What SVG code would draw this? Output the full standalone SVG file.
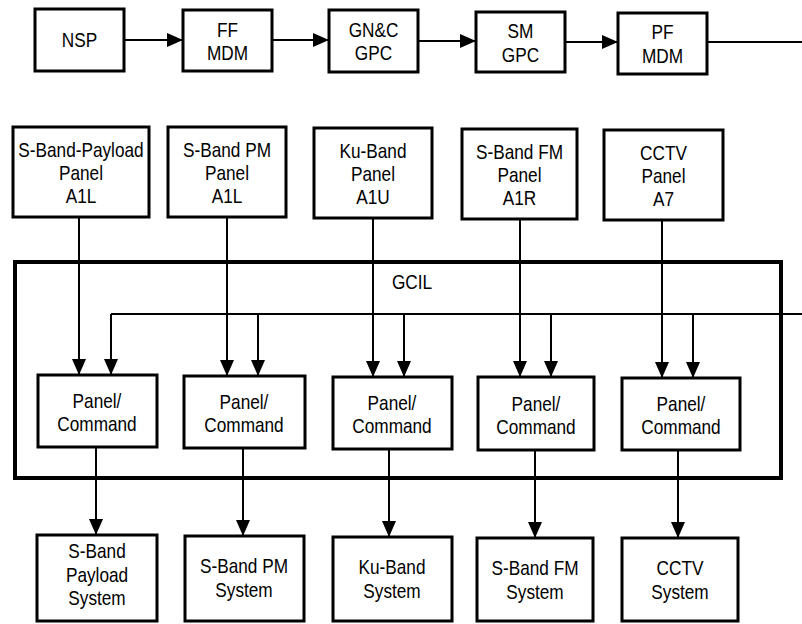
<svg xmlns="http://www.w3.org/2000/svg" width="802" height="624" viewBox="0 0 802 624">
<defs>
<style>
.box{fill:#fff;stroke:#000;stroke-width:3}
.n{font-family:"Liberation Sans",Arial,sans-serif;font-size:21px;text-anchor:middle;fill:#000}
.c{fill:none;stroke:#000;stroke-width:2}
</style>
<marker id="ah" markerUnits="userSpaceOnUse" markerWidth="17" markerHeight="15" refX="16" refY="7" orient="auto">
<path d="M0,0 L16,7 L0,14 z" fill="#000"/>
</marker>
</defs>
<rect width="802" height="624" fill="#fff"/>

<g id="gcil">
<rect x="15" y="262" width="766" height="216" fill="none" stroke="#000" stroke-width="4"/>
<text class="n" transform="translate(412 289) scale(.82 1)">GCIL</text>
</g>

<g id="connectors">
<path class="c" d="M124,40 H183" marker-end="url(#ah)"/>
<path class="c" d="M272,40 H329" marker-end="url(#ah)"/>
<path class="c" d="M418,41 H476" marker-end="url(#ah)"/>
<path class="c" d="M565,42 H618" marker-end="url(#ah)"/>
<path class="c" d="M707,42 H802"/>
<path class="c" d="M111,314 H802"/>
<path class="c" d="M79,217 V375" marker-end="url(#ah)"/>
<path class="c" d="M111,314 V375" marker-end="url(#ah)"/>
<path class="c" d="M227,217 V376" marker-end="url(#ah)"/>
<path class="c" d="M258,314 V376" marker-end="url(#ah)"/>
<path class="c" d="M373,218 V377" marker-end="url(#ah)"/>
<path class="c" d="M404,314 V377" marker-end="url(#ah)"/>
<path class="c" d="M520,219 V377" marker-end="url(#ah)"/>
<path class="c" d="M551,314 V377" marker-end="url(#ah)"/>
<path class="c" d="M662,220 V378" marker-end="url(#ah)"/>
<path class="c" d="M693,314 V378" marker-end="url(#ah)"/>
<path class="c" d="M96,447 V535" marker-end="url(#ah)"/>
<path class="c" d="M243,448 V536" marker-end="url(#ah)"/>
<path class="c" d="M389,449 V537" marker-end="url(#ah)"/>
<path class="c" d="M535,450 V538" marker-end="url(#ah)"/>
<path class="c" d="M678,450 V538" marker-end="url(#ah)"/>
</g>

<g id="nsp"><rect class="box" x="35" y="9" width="89" height="62"/><text class="n" transform="translate(79.5 47) scale(.82 1)">NSP</text></g>
<g id="ff-mdm"><rect class="box" x="183" y="10" width="89" height="61"/><text class="n" transform="translate(227.5 37) scale(.82 1)">FF</text><text class="n" transform="translate(227.5 60) scale(.82 1)">MDM</text></g>
<g id="gnc-gpc"><rect class="box" x="329" y="10" width="89" height="62"/><text class="n" transform="translate(373.5 37) scale(.82 1)">GN&amp;C</text><text class="n" transform="translate(373.5 60) scale(.82 1)">GPC</text></g>
<g id="sm-gpc"><rect class="box" x="476" y="12" width="89" height="60"/><text class="n" transform="translate(520.5 38) scale(.82 1)">SM</text><text class="n" transform="translate(520.5 62) scale(.82 1)">GPC</text></g>
<g id="pf-mdm"><rect class="box" x="618" y="13" width="89" height="61"/><text class="n" transform="translate(662.5 39) scale(.82 1)">PF</text><text class="n" transform="translate(662.5 63) scale(.82 1)">MDM</text></g>

<g id="panel-sbp"><rect class="box" x="13" y="127" width="136" height="90"/><text class="n" transform="translate(81 157) scale(.82 1)">S-Band-Payload</text><text class="n" transform="translate(81 180) scale(.82 1)">Panel</text><text class="n" transform="translate(81 203) scale(.82 1)">A1L</text></g>
<g id="panel-sbpm"><rect class="box" x="168" y="127" width="118" height="90"/><text class="n" transform="translate(227 157) scale(.82 1)">S-Band PM</text><text class="n" transform="translate(227 180) scale(.82 1)">Panel</text><text class="n" transform="translate(227 203) scale(.82 1)">A1L</text></g>
<g id="panel-ku"><rect class="box" x="314" y="128" width="118" height="90"/><text class="n" transform="translate(373 158) scale(.82 1)">Ku-Band</text><text class="n" transform="translate(373 181) scale(.82 1)">Panel</text><text class="n" transform="translate(373 204) scale(.82 1)">A1U</text></g>
<g id="panel-sbfm"><rect class="box" x="462" y="129" width="115" height="90"/><text class="n" transform="translate(519.5 159) scale(.82 1)">S-Band FM</text><text class="n" transform="translate(519.5 182) scale(.82 1)">Panel</text><text class="n" transform="translate(519.5 205) scale(.82 1)">A1R</text></g>
<g id="panel-cctv"><rect class="box" x="604" y="130" width="119" height="90"/><text class="n" transform="translate(663.5 160) scale(.82 1)">CCTV</text><text class="n" transform="translate(663.5 183) scale(.82 1)">Panel</text><text class="n" transform="translate(663.5 206) scale(.82 1)">A7</text></g>

<g id="pc1"><rect class="box" x="38" y="375" width="119" height="72"/><text class="n" transform="translate(97 408) scale(.82 1)">Panel/</text><text class="n" transform="translate(97 431) scale(.82 1)">Command</text></g>
<g id="pc2"><rect class="box" x="184" y="376" width="121" height="72"/><text class="n" transform="translate(244 409) scale(.82 1)">Panel/</text><text class="n" transform="translate(244 432) scale(.82 1)">Command</text></g>
<g id="pc3"><rect class="box" x="333" y="377" width="119" height="72"/><text class="n" transform="translate(392 410) scale(.82 1)">Panel/</text><text class="n" transform="translate(392 433) scale(.82 1)">Command</text></g>
<g id="pc4"><rect class="box" x="478" y="377" width="116" height="73"/><text class="n" transform="translate(536 411) scale(.82 1)">Panel/</text><text class="n" transform="translate(536 434) scale(.82 1)">Command</text></g>
<g id="pc5"><rect class="box" x="622" y="378" width="118" height="72"/><text class="n" transform="translate(681 411) scale(.82 1)">Panel/</text><text class="n" transform="translate(681 434) scale(.82 1)">Command</text></g>

<g id="sys-sbp"><rect class="box" x="37" y="535" width="120" height="86"/><text class="n" transform="translate(97 558) scale(.82 1)">S-Band</text><text class="n" transform="translate(97 582) scale(.82 1)">Payload</text><text class="n" transform="translate(97 605) scale(.82 1)">System</text></g>
<g id="sys-sbpm"><rect class="box" x="185" y="536" width="119" height="85"/><text class="n" transform="translate(244 573) scale(.82 1)">S-Band PM</text><text class="n" transform="translate(244 597) scale(.82 1)">System</text></g>
<g id="sys-ku"><rect class="box" x="333" y="537" width="119" height="84"/><text class="n" transform="translate(392 574) scale(.82 1)">Ku-Band</text><text class="n" transform="translate(392 598) scale(.82 1)">System</text></g>
<g id="sys-sbfm"><rect class="box" x="477" y="538" width="116" height="83"/><text class="n" transform="translate(535 575) scale(.82 1)">S-Band FM</text><text class="n" transform="translate(535 599) scale(.82 1)">System</text></g>
<g id="sys-cctv"><rect class="box" x="622" y="538" width="116" height="83"/><text class="n" transform="translate(680 575) scale(.82 1)">CCTV</text><text class="n" transform="translate(680 599) scale(.82 1)">System</text></g>
</svg>
